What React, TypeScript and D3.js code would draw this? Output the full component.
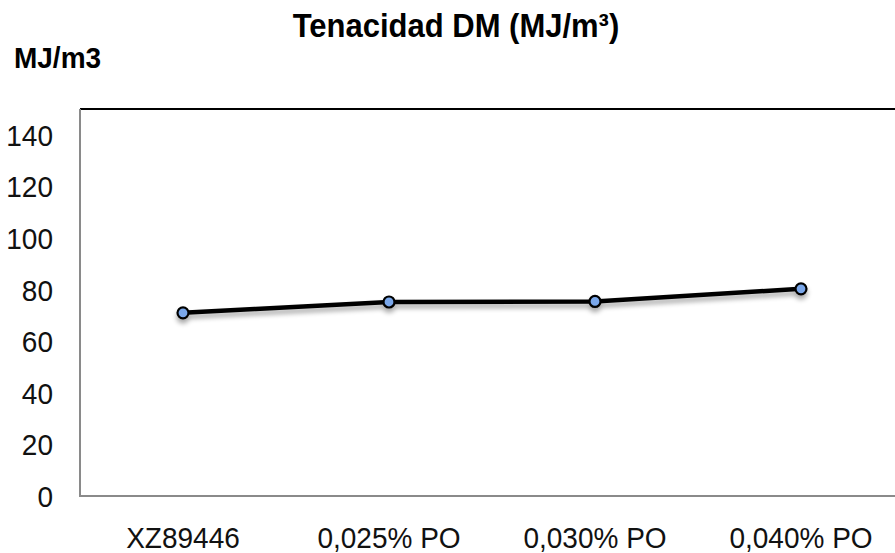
import React from 'react';
import * as d3 from 'd3';

const categories = ['XZ89446', '0,025% PO', '0,030% PO', '0,040% PO'];
const values = [71, 75.2, 75.4, 80.3];
const yTicks = [0, 20, 40, 60, 80, 100, 120, 140];

const W = 895;
const H = 553;
const margin = { top: 109, right: -9, bottom: 57, left: 80 };

const App = () => {
  const x = d3
    .scaleBand<string>()
    .domain(categories)
    .range([margin.left, W - margin.right]);
  const y = d3
    .scaleLinear()
    .domain([0, 150])
    .range([H - margin.bottom, margin.top]);

  const pts = categories.map((c, i) => ({ c, v: values[i] }));
  const cx = (c: string) => (x(c) as number) + x.bandwidth() / 2;
  const line = d3
    .line<{ c: string; v: number }>()
    .x((d) => cx(d.c))
    .y((d) => y(d.v));

  const font = '"Liberation Sans", Arial, sans-serif';
  const x0 = margin.left;
  const x1 = W - margin.right;
  const yTop = y(150);
  const yBot = y(0);

  // text is a bit taller than wide in the original, stretch it slightly
  const stretch = (tx: number, ty: number) => `translate(${tx},${ty}) scale(1,1.08)`;

  return (
    <svg
      width={W}
      height={H}
      style={{ position: 'absolute', left: 0, top: 0, display: 'block', background: '#fff' }}
      fontFamily={font}
    >
      <defs>
        <filter id="shadow" x="-50%" y="-50%" width="200%" height="300%">
          <feGaussianBlur in="SourceAlpha" stdDeviation="2.5" />
          <feOffset dx="0" dy="4" result="blur" />
          <feComponentTransfer>
            <feFuncA type="linear" slope="0.35" />
          </feComponentTransfer>
          <feMerge>
            <feMergeNode />
            <feMergeNode in="SourceGraphic" />
          </feMerge>
        </filter>
      </defs>

      {/* title and unit */}
      <text transform={stretch(456, 37)} textAnchor="middle" fontSize={31} fontWeight="bold">
        Tenacidad DM (MJ/m³)
      </text>
      <text transform={stretch(14, 68)} fontSize={28} fontWeight="bold">
        MJ/m3
      </text>

      {/* frame */}
      <line x1={x0} x2={x1} y1={yTop} y2={yTop} stroke="#000" strokeWidth={2} />
      <line x1={x0} x2={x0} y1={yTop} y2={yBot} stroke="#8a8a8a" strokeWidth={2} />
      <line x1={x0 - 1} x2={x1} y1={yBot} y2={yBot} stroke="#8a8a8a" strokeWidth={2} />

      {/* y tick labels */}
      {yTicks.map((t) => (
        <text key={t} transform={stretch(53, y(t) + 11)} textAnchor="end" fontSize={28} fill="#111">
          {t}
        </text>
      ))}

      {/* category labels */}
      {categories.map((c) => (
        <text key={c} transform={stretch(cx(c), 548)} textAnchor="middle" fontSize={28} fill="#111">
          {c}
        </text>
      ))}

      {/* series */}
      <g filter="url(#shadow)">
        <path d={line(pts) || ''} fill="none" stroke="#000" strokeWidth={4.5} />
        {pts.map((d) => (
          <circle
            key={d.c}
            cx={cx(d.c)}
            cy={y(d.v)}
            r={5.5}
            fill="#7aa7ea"
            stroke="#000"
            strokeWidth={2.2}
          />
        ))}
      </g>
    </svg>
  );
};

export default App;
